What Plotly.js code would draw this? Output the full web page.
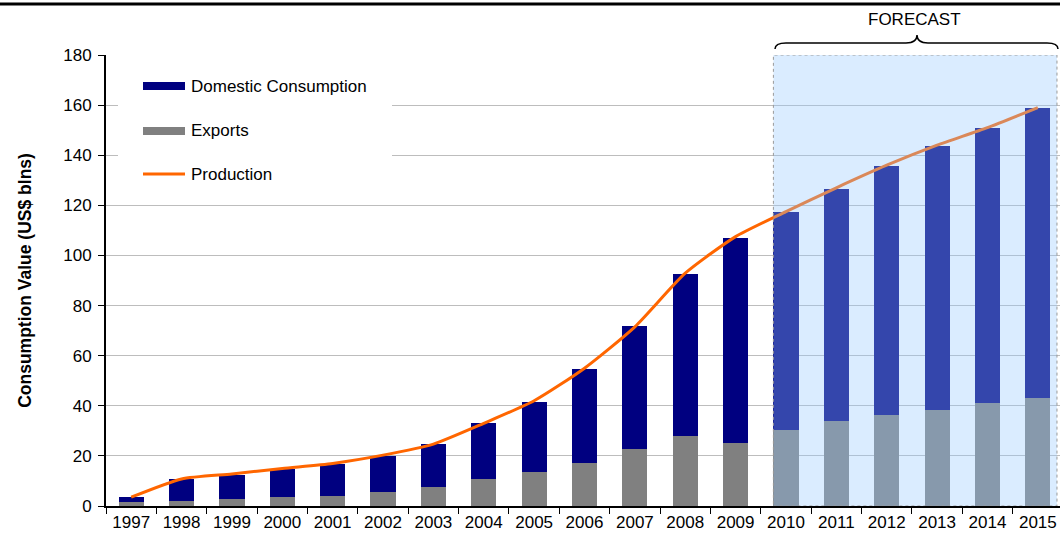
<!DOCTYPE html>
<html>
<head>
<meta charset="utf-8">
<script src="https://cdn.plot.ly/plotly-3.0.1.min.js"></script>
<style>
  html, body { margin: 0; padding: 0; background: #fff; }
  #chart { width: 1060px; height: 537px; }
</style>
</head>
<body>
<div id="chart"></div>
<script>
// Years shown on the category axis
const years = ['1997','1998','1999','2000','2001','2002','2003','2004','2005','2006',
               '2007','2008','2009','2010','2011','2012','2013','2014','2015'];

// Consumption split (US$ bln)
const exportsVals  = [1.5, 2.1, 2.9, 3.6, 4.1, 5.6, 7.6, 10.9, 13.4, 17.3,
                      22.6, 27.9, 25.3, 30.5, 33.8, 36.3, 38.3, 41.1, 43.1];
const domesticVals = [2.0, 8.7, 9.5, 11.0, 12.5, 14.4, 17.0, 22.2, 28.2, 37.5,
                      49.2, 64.6, 81.5, 86.8, 92.7, 99.4, 105.4, 109.7, 115.7];

// Production value (US$ bln)
const production   = [3.5, 10.8, 12.8, 15.0, 17.0, 20.3, 24.7, 33.0, 42.0, 55.0,
                      71.5, 92.9, 107.5, 117.5, 127, 136, 144, 151, 159];

const seriesNames = ['Domestic Consumption', 'Exports', 'Production'];
const seriesColors = ['#000080', '#808080', '#FF6600'];
const forecastLabel = 'FORECAST';
const yTitle = 'Consumption Value (US$ blns)';

const FONT = 'Liberation Sans, Arial, sans-serif';

const traces = [
  {
    type: 'bar', x: years, y: exportsVals, name: seriesNames[1],
    marker: { color: seriesColors[1] }, width: 0.5, showlegend: false,
    hoverinfo: 'x+y'
  },
  {
    type: 'bar', x: years, y: domesticVals, name: seriesNames[0],
    marker: { color: seriesColors[0] }, width: 0.5, showlegend: false,
    hoverinfo: 'x+y'
  },
  {
    type: 'scatter', mode: 'lines', x: years, y: production, name: seriesNames[2],
    line: { color: seriesColors[2], width: 3, shape: 'spline', smoothing: 0.6 },
    showlegend: false
  }
];

// plot-area geometry in pixels (used to place the hand-drawn legend and brace)
const W = 1060, H = 537, L = 106, R = 0, T = 55, B = 31;
const pw = W - L - R, ph = H - T - B;
const px = v => (v - L) / pw;           // page x -> paper x
const py = v => (H - B - v) / ph;       // page y -> paper y

const shapes = [
  // forecast band, tinted over the bars
  {
    type: 'rect', xref: 'x', yref: 'y', x0: 12.75, x1: 18.38, y0: 0, y1: 180,
    fillcolor: 'rgba(149,200,255,0.35)', line: { color: '#9a9a9a', width: 1, dash: 'dot' },
    layer: 'above'
  },
  // curly brace over the forecast band
  {
    type: 'path', xref: 'paper', yref: 'paper',
    path: (() => {
      const x0 = px(775), x1 = px(1058), xm = px(917), d = px(786) - px(775);
      const yE = py(49), yH = py(43), yP = py(35);
      return `M${x0},${yE} Q${x0},${yH} ${x0 + d},${yH} L${xm - d},${yH} Q${xm},${yH} ${xm},${yP} ` +
             `Q${xm},${yH} ${xm + d},${yH} L${x1 - d},${yH} Q${x1},${yH} ${x1},${yE}`;
    })(),
    line: { color: '#000', width: 1.5 }
  },
  // heavy rule across the top of the figure
  {
    type: 'line', xref: 'paper', yref: 'paper', x0: px(0), x1: px(1060), y0: py(4), y1: py(4),
    line: { color: '#000', width: 3 }
  },
  // legend backing and swatches
  {
    type: 'rect', xref: 'paper', yref: 'paper', x0: px(118), x1: px(392), y0: py(196), y1: py(63),
    fillcolor: '#fff', line: { width: 0 }, layer: 'above'
  },
  {
    type: 'rect', xref: 'paper', yref: 'paper', x0: px(143), x1: px(185), y0: py(90), y1: py(82),
    fillcolor: seriesColors[0], line: { width: 0 }, layer: 'above'
  },
  {
    type: 'rect', xref: 'paper', yref: 'paper', x0: px(143), x1: px(185), y0: py(135), y1: py(127),
    fillcolor: seriesColors[1], line: { width: 0 }, layer: 'above'
  },
  {
    type: 'line', xref: 'paper', yref: 'paper', x0: px(143), x1: px(185), y0: py(174), y1: py(174),
    line: { color: seriesColors[2], width: 3 }, layer: 'above'
  }
];

const legendY = [86, 131, 174];
const annotations = seriesNames.map((n, i) => ({
  xref: 'paper', yref: 'paper', x: px(189), y: py(legendY[i]),
  xanchor: 'left', yanchor: 'middle', showarrow: false,
  text: n, font: { family: FONT, size: 17, color: '#000' }
}));
annotations.push({
  xref: 'paper', yref: 'paper', x: px(914), y: py(20),
  xanchor: 'center', yanchor: 'middle', showarrow: false,
  text: forecastLabel, font: { family: FONT, size: 17, color: '#000' }
});

const layout = {
  width: W, height: H,
  margin: { l: L, r: R, t: T, b: B, pad: 0 },
  paper_bgcolor: '#fff', plot_bgcolor: '#fff',
  barmode: 'stack',
  showlegend: false,
  font: { family: FONT, size: 17, color: '#000' },
  xaxis: {
    type: 'category', range: [-0.5, 18.44],
    showline: true, linecolor: '#000', linewidth: 2,
    ticks: 'outside', tickson: 'boundaries', ticklen: 6, tickcolor: '#000', tickwidth: 1,
    showgrid: false, zeroline: false,
    tickfont: { family: FONT, size: 17, color: '#000' }
  },
  yaxis: {
    range: [0, 180], dtick: 20, tick0: 0,
    showline: true, linecolor: '#000', linewidth: 2,
    ticks: 'outside', ticklen: 6, tickcolor: '#000', tickwidth: 1,
    showgrid: true, gridcolor: '#BDBDBD', gridwidth: 1, zeroline: false,
    tickfont: { family: FONT, size: 17, color: '#000' },
    ticklabelstandoff: 3,
    title: { text: yTitle, standoff: 27, font: { family: FONT, size: 17.5, color: '#000', weight: 'bold' } }
  },
  shapes: shapes,
  annotations: annotations
};

Plotly.newPlot('chart', traces, layout, { displayModeBar: false, staticPlot: true });
</script>
</body>
</html>
